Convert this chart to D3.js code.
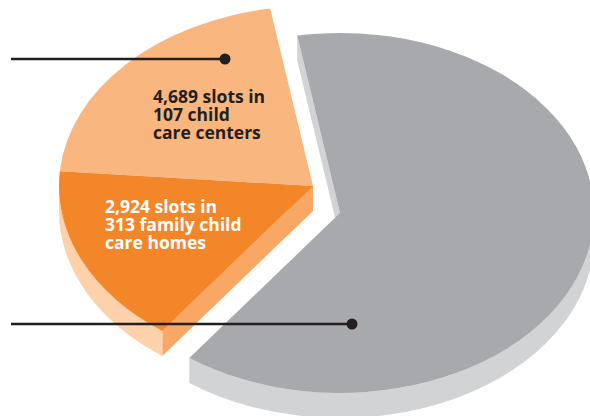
<!DOCTYPE html>
<html>
<head>
<meta charset="utf-8">
<script src="https://cdn.jsdelivr.net/npm/d3@7"></script>
<style>
  body { margin: 0; background: #fff; }
  svg { display: block; }
</style>
</head>
<body>
<div id="chart"></div>
<script>
// shares of the pie as drawn (percent), gray first, then clockwise
const sliceNames = ["other", "family child care homes", "child care centers"];
const sliceShares = [62.8, 16.2, 21.0];
const topColors = ["#a7a9ac", "#f4862a", "#f9b67f"];
const rimColors = ["#d1d3d4", "#fdd1a9", "#fdd1a9"];
const cutColors = ["#d1d3d4", "#f8a764", "#f8a764"];
const explodeDir = [1, -1, -1];  // gray pulled to lower right, orange pieces to upper left

const labelLines = [
  null,
  ["2,924 slots in", "313 family child", "care homes"],
  ["4,689 slots in", "107 child", "care centers"]
];
const labelColors = [null, "#ffffff", "#231f20"];
const labelPos = [null, [105, 213], [153, 103]];

// leader lines coming in from the left edge
const leaderY = [59, 324];
const leaderEnd = [225, 352];

const width = 590,
  height = 416,
  cx = 326.5,
  cy = 199.5,
  r = 254,       // horizontal radius
  ry = 180,      // vertical radius (tilted)
  k = ry / r,
  depth = 25,
  explode = 13.5,
  start = -9.7 * Math.PI / 180;

const h = depth / k;  // depth in unscaled circle space

const slices = d3.pie().sort(null).value(d => d)
  .startAngle(start).endAngle(start + 2 * Math.PI)(sliceShares);

const arc = d3.arc().innerRadius(0).outerRadius(r);

const svg = d3.select("#chart")
  .append("svg")
  .attr("width", width)
  .attr("height", height);

const pt = a => [r * Math.sin(a), -r * Math.cos(a)];

function rimPath(a0, a1) {
  const a = Math.max(a0, Math.PI / 2), b = Math.min(a1, 3 * Math.PI / 2);
  if (b <= a) return null;
  const p = d3.path();
  p.moveTo(...pt(a));
  p.arc(0, 0, r, a - Math.PI / 2, b - Math.PI / 2);
  p.lineTo(pt(b)[0], pt(b)[1] + h);
  p.arc(0, h, r, b - Math.PI / 2, a - Math.PI / 2, true);
  p.closePath();
  return p.toString();
}

function cutPath(a) {
  const [x, y] = pt(a);
  return `M0,0L${x},${y}L${x},${y + h}L0,${h}Z`;
}

const place = (d, i) =>
  `translate(${cx + explodeDir[i] * explode},${cy + explodeDir[i] * explode}) scale(1,${k})`;

// side walls first
const sides = svg.append("g")
  .selectAll("g")
  .data(slices)
  .join("g")
  .attr("transform", place);

sides.each(function(d, i) {
  const g = d3.select(this);
  if (Math.sin(d.startAngle) < 0) {
    g.append("path").attr("d", cutPath(d.startAngle)).attr("fill", cutColors[i]);
  }
  if (Math.sin(d.endAngle) > 0) {
    g.append("path").attr("d", cutPath(d.endAngle)).attr("fill", cutColors[i]);
  }
  const rim = rimPath(d.startAngle, d.endAngle);
  if (rim) g.append("path").attr("d", rim).attr("fill", rimColors[i]);
});

// top faces
svg.append("g")
  .selectAll("path")
  .data(slices)
  .join("path")
  .attr("transform", place)
  .attr("fill", (d, i) => topColors[i])
  .attr("d", arc);

// labels
svg.append("g")
  .attr("font-family", "'Open Sans', sans-serif")
  .attr("font-weight", "bold")
  .attr("font-size", 17.5)
  .selectAll("text")
  .data(slices.filter((d, i) => labelLines[i]))
  .join("text")
  .attr("fill", d => labelColors[d.index])
  .attr("transform", d => `translate(${labelPos[d.index]})`)
  .selectAll("tspan")
  .data(d => labelLines[d.index])
  .join("tspan")
  .attr("x", 0)
  .attr("y", (d, i) => i * 18)
  .text(d => d);

// leader lines
const leaders = svg.append("g")
  .selectAll("g")
  .data(leaderY)
  .join("g");

leaders.append("line")
  .attr("x1", 11)
  .attr("x2", (d, i) => leaderEnd[i])
  .attr("y1", d => d)
  .attr("y2", d => d)
  .attr("stroke", "#231f20")
  .attr("stroke-width", 2.5);

leaders.append("circle")
  .attr("cx", (d, i) => leaderEnd[i])
  .attr("cy", d => d)
  .attr("r", 5.5)
  .attr("fill", "#231f20");
</script>
</body>
</html>
